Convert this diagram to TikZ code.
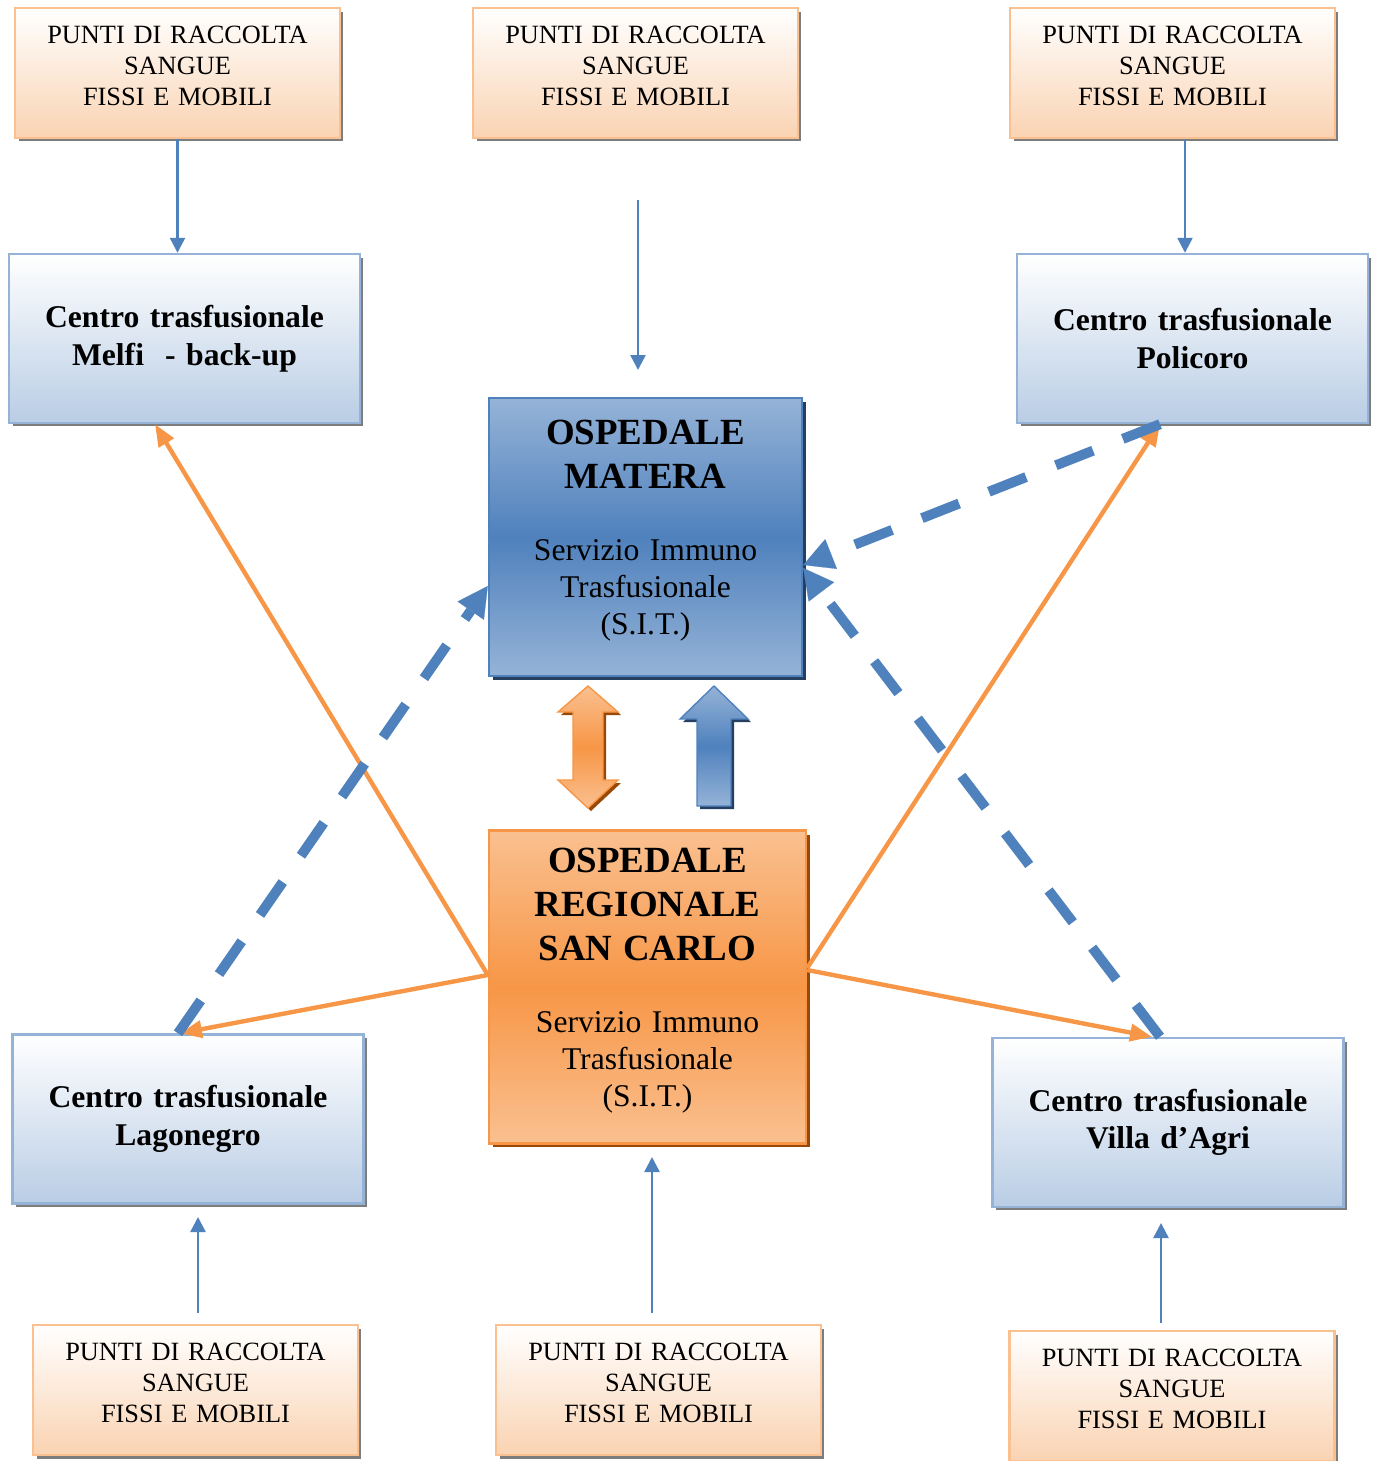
\documentclass[tikz,border=0pt]{standalone}
\usepackage{fontspec}
\setmainfont{Liberation Serif}
\usetikzlibrary{arrows.meta,shadows}
\definecolor{sitBlue}{RGB}{79,129,189}
\definecolor{sitBlueLight}{RGB}{185,205,229}
\definecolor{sitBlueMid}{RGB}{149,179,215}
\definecolor{sitBlueDark}{RGB}{36,63,96}
\definecolor{sitOrange}{RGB}{247,150,70}
\definecolor{sitOrangeLight}{RGB}{250,192,144}
\definecolor{sitOrangePale}{RGB}{250,211,178}
\definecolor{sitOrangeDark}{RGB}{152,72,7}
\definecolor{sitShadow}{RGB}{125,125,125}

\begin{document}
\begin{tikzpicture}[x=0.02cm, y=-0.02cm,
    punto/.style={draw=sitOrangeLight, line width=1.4pt, top color=white, bottom color=sitOrangePale, minimum width=6.5cm, minimum height=2.6cm, text width=6.3cm, align=center, inner sep=0pt, font=\fontsize{15}{17.6}\selectfont, execute at end node={\rule[-0.28cm]{0pt}{0pt}}, general shadow={fill=sitShadow, shadow xshift=0.07cm, shadow yshift=-0.07cm}},
    centro/.style={draw=sitBlueMid, line width=1.4pt, top color=white, bottom color=sitBlueLight, minimum width=7.02cm, minimum height=3.38cm, text width=6.8cm, align=center, inner sep=0pt, font=\fontsize{18}{21.4}\selectfont\bfseries, general shadow={fill=sitShadow, shadow xshift=0.07cm, shadow yshift=-0.07cm}},
    ospedale/.style={line width=1.4pt, text width=6cm, align=center, inner sep=0pt, font=\fontsize{18}{21}\selectfont, execute at end node={\rule[-0.4cm]{0pt}{0pt}}},
    feed/.style={sitBlue, line width=1.4pt, -{Triangle[length=0.3cm, width=0.3cm]}},
    link/.style={sitOrange, line width=2.5pt, -{Triangle[length=0.44cm, width=0.34cm]}},
    dashlink/.style={sitBlue, line width=0.2cm, dash pattern=on 0.8cm off 0.64cm, -{Triangle[length=0.6cm, width=0.64cm, line width=0.1pt]}}]
    \useasboundingbox (0,0) rectangle (1375,1461);

    \node[punto] (ptl) at (177.5,73) {PUNTI DI RACCOLTA\\SANGUE\\FISSI E MOBILI};
    \node[punto] (ptm) at (635.5,73) {PUNTI DI RACCOLTA\\SANGUE\\FISSI E MOBILI};
    \node[punto] (ptr) at (1172.5,73) {PUNTI DI RACCOLTA\\SANGUE\\FISSI E MOBILI};

    \node[centro] (melfi) at (184.5,338.5) {Centro trasfusionale\\Melfi\ \ - back-up};
    \node[centro] (policoro) at (1192.5,338.5) {Centro trasfusionale\\Policoro};
    \node[centro] (lagonegro) at (188,1119) {Centro trasfusionale\\Lagonegro};
    \node[centro] (villa) at (1168,1122.5) {Centro trasfusionale\\Villa d’Agri};

    \node[ospedale, draw=sitBlue, top color=sitBlueMid, bottom color=sitBlueMid, middle color=sitBlue, minimum width=6.26cm, minimum height=5.56cm, general shadow={fill=sitBlueDark, shadow xshift=0.08cm, shadow yshift=-0.08cm}] (matera) at (645.5,537)
        {{\fontsize{21}{25}\selectfont\bfseries OSPEDALE\\MATERA\par}\vspace{20pt}Servizio Immuno\\Trasfusionale\\(S.I.T.)};
    \node[ospedale, draw=sitOrange, top color=sitOrangeLight, bottom color=sitOrangeLight, middle color=sitOrange, minimum width=6.34cm, minimum height=6.26cm, general shadow={fill=sitOrangeDark, shadow xshift=0.08cm, shadow yshift=-0.08cm}] (sancarlo) at (647.5,987)
        {{\fontsize{21}{25}\selectfont\bfseries OSPEDALE\\REGIONALE\\SAN CARLO\par}\vspace{20pt}Servizio Immuno\\Trasfusionale\\(S.I.T.)};

    \node[punto] (pbl) at (195.5,1390) {PUNTI DI RACCOLTA\\SANGUE\\FISSI E MOBILI};
    \node[punto] (pbm) at (658.5,1390) {PUNTI DI RACCOLTA\\SANGUE\\FISSI E MOBILI};
    \node[punto] (pbr) at (1172,1396) {PUNTI DI RACCOLTA\\SANGUE\\FISSI E MOBILI};

    \path[draw=sitOrange, line width=0.8pt, top color=sitOrangeLight, bottom color=sitOrangeLight, middle color=sitOrange, general shadow={fill=sitOrangeDark, shadow xshift=0.06cm, shadow yshift=-0.06cm}]
        (588,686) -- (618,712) -- (603,712) -- (603,780) -- (618,780) -- (588,808) -- (558,780) -- (573,780) -- (573,712) -- (558,712) -- cycle;
    \path[draw=sitBlue, line width=0.8pt, top color=sitBlueMid, bottom color=sitBlueMid, middle color=sitBlue, general shadow={fill=sitBlueDark, shadow xshift=0.06cm, shadow yshift=-0.06cm}]
        (714,686) -- (748,719) -- (731,719) -- (731,806) -- (697,806) -- (697,719) -- (680,719) -- cycle;

    \coordinate (trTop) at ([xshift=0.25cm]ptr.south);
    \coordinate (tmFrom) at (638,200);
    \coordinate (tmTo) at (638,370);
    \coordinate (blFrom) at (198,1313);
    \coordinate (blTo) at (198,1217);
    \coordinate (bmFrom) at (652,1313);
    \coordinate (bmTo) at (652,1157);
    \coordinate (brFrom) at (1161,1323);
    \coordinate (brTo) at (1161,1223);

    \draw[feed] (ptl.south) -- (ptl.south |- melfi.north);
    \draw[feed] (tmFrom) -- (tmTo);
    \draw[feed] (trTop) -- (trTop |- policoro.north);
    \draw[feed] (blFrom) -- (blTo);
    \draw[feed] (bmFrom) -- (bmTo);
    \draw[feed] (brFrom) -- (brTo);

    \draw[link] ([yshift=0.24cm]sancarlo.west) -- ([xshift=-0.59cm]melfi.south);
    \draw[link] ([yshift=0.24cm]sancarlo.west) -- ([xshift=-0.16cm]lagonegro.north);
    \draw[link] ([yshift=0.38cm]sancarlo.east) -- ([xshift=-0.65cm]policoro.south);
    \draw[link] ([yshift=0.34cm]sancarlo.east) -- ([xshift=-0.32cm]villa.north);

    \draw[dashlink] ([xshift=-0.2cm]lagonegro.north) -- ([yshift=-0.98cm]matera.west);
    \draw[dashlink] ([xshift=-0.65cm]policoro.south) -- ([yshift=-0.56cm]matera.east);
    \draw[dashlink] ([xshift=-0.16cm]villa.north) -- ([yshift=-0.62cm]matera.east);
  \end{tikzpicture}
\end{document}
